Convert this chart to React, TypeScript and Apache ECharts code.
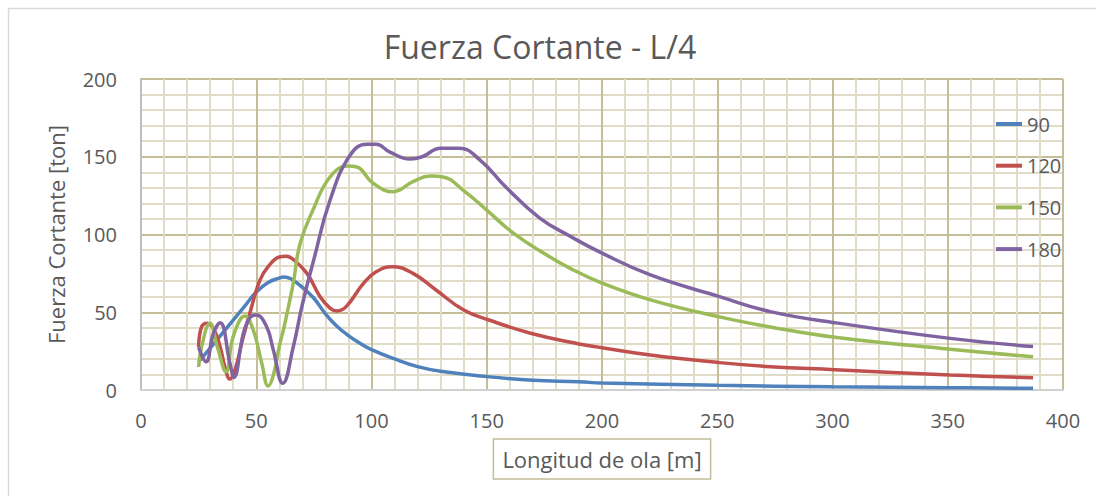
import React, { useEffect, useRef } from "react";
import * as echarts from "echarts";

const seriesNames = ["90", "120", "150", "180"];
const seriesColors = ["#4f81bd", "#c0504d", "#9bbb59", "#8064a2"];

const lengths90 = [25, 30, 35, 40, 45, 50, 55, 60, 62, 65, 70, 75, 80, 85, 90, 95, 100, 110, 120, 130, 150, 170, 190, 200, 250, 300, 350, 387];
const force90 = [18, 27, 36, 45, 54, 63, 69, 72, 72.7, 71.5, 66, 59, 49, 41, 35, 30, 26, 20, 15, 12, 8.6, 6.3, 5.3, 4.5, 3, 2.1, 1.5, 1.1];

const lengths120 = [25, 26.3, 28.7, 31.4, 34.3, 36.4, 38.6, 40.8, 44.4, 48, 51.6, 55, 60, 63, 66, 72, 77.7, 82, 85, 89, 96.5, 102, 109, 118, 128, 140, 151, 169, 190, 200, 221, 251, 273, 301, 351, 387];
const force120 = [27.6, 40.7, 43, 39.7, 28, 15, 7, 13, 34.3, 53.6, 70.7, 79, 85.5, 86, 84, 75, 60, 52.7, 50.8, 53.6, 68.6, 76, 79.3, 75, 64.3, 51.4, 45, 36.5, 29.6, 27.2, 22.5, 17.6, 15, 13.1, 9.6, 7.9];

const lengths150 = [25, 26.3, 29.9, 33.1, 36.9, 40, 45.1, 48.7, 52.4, 55.2, 57.5, 60, 62, 64.6, 66.1, 69, 74.6, 82, 89.8, 93.6, 100.7, 109.4, 118, 125.4, 131, 139.7, 150, 161.4, 176, 186, 200, 221, 251, 273, 301, 351, 387];
const force150 = [14.8, 27.9, 42.9, 27.9, 11.8, 34.3, 47.6, 38.6, 17.1, 2.6, 10, 28, 40, 58, 69, 94, 115.7, 137, 144, 143.4, 133, 127.5, 134, 137.6, 137, 128.6, 115.7, 101, 86.8, 78.4, 68.8, 58, 47, 40.5, 33.9, 26.2, 21.4];

const lengths180 = [25, 28.2, 31.4, 34.3, 38.6, 40.3, 44.4, 47.3, 49.9, 54.5, 57.4, 61.5, 66.1, 70, 75, 82, 90.7, 98, 102, 108, 116.7, 122, 130, 138, 147, 158.6, 173, 186, 200, 221, 251, 273, 301, 351, 387];
const force180 = [27.6, 18.2, 36.4, 43.3, 17.1, 8.1, 36.4, 46.7, 48.2, 40.7, 25.7, 4.3, 28, 55, 84, 122, 151, 158, 158, 153, 148.5, 150, 155.5, 155.5, 148, 130, 110.6, 99, 88, 74, 60, 50.4, 43.3, 33.2, 27.9];

const allLengths = [lengths90, lengths120, lengths150, lengths180];
const allForces = [force90, force120, force150, force180];

const FONT = "'Open Sans', sans-serif";
const TEXT = "#595959";

export default function App() {
  const ref = useRef<HTMLDivElement>(null);
  useEffect(() => {
    if (!ref.current) return;
    const chart = echarts.init(ref.current, undefined, { renderer: "svg" });
    const series = seriesNames.map((name, i) => ({
      name,
      type: "line",
      data: allLengths[i].map((x, j) => [x, allForces[i][j]]),
      smooth: 0.45,
      showSymbol: false,
      symbol: "none",
      lineStyle: { color: seriesColors[i], width: 3.5 },
      itemStyle: { color: seriesColors[i] },
      z: 3 + i,
    }));
    chart.setOption({
      animation: false,
      backgroundColor: "#ffffff",
      textStyle: { fontFamily: FONT },
      title: {
        text: "Fuerza Cortante - L/4",
        left: 535,
        top: 25,
        textAlign: "center",
        textStyle: { fontFamily: FONT, fontSize: 32, fontWeight: "normal", color: TEXT },
      },
      graphic: [
        {
          type: "rect",
          shape: { x: 8.5, y: 8.5, width: 1200, height: 600 },
          style: { fill: "none", stroke: "#d9d9d9", lineWidth: 1.5 },
          silent: true,
          z: -1,
        },
      ],
      legend: {
        orient: "vertical",
        left: 991,
        top: 109,
        itemWidth: 26,
        itemHeight: 4,
        itemGap: 21.7,
        icon: "rect",
        data: seriesNames,
        textStyle: { fontFamily: FONT, fontSize: 20, color: TEXT, lineHeight: 20 },
      },
      grid: { left: 141, right: 33, top: 79, bottom: 106, containLabel: false },
      xAxis: {
        type: "value",
        min: 0,
        max: 400,
        interval: 50,
        name: "Longitud de ola [m]",
        nameLocation: "middle",
        nameGap: 49,
        nameTextStyle: {
          fontFamily: FONT,
          fontSize: 22,
          color: TEXT,
          borderColor: "#c4bd97",
          borderWidth: 1.5,
          padding: [7, 9, 7, 9],
          lineHeight: 26,
        },
        axisLine: { show: true, lineStyle: { color: "#d0d0d0", width: 2 } },
        axisTick: { show: false },
        axisLabel: { fontFamily: FONT, fontSize: 20, color: TEXT, margin: 20 },
        splitLine: { show: true, lineStyle: { color: "#c4bd97", width: 2 } },
        minorTick: { show: false, splitNumber: 5 },
        minorSplitLine: { show: true, lineStyle: { color: "#e0dcc7", width: 2 } },
      },
      yAxis: {
        type: "value",
        min: 0,
        max: 200,
        interval: 50,
        name: "Fuerza Cortante [ton]",
        nameLocation: "middle",
        nameGap: 74,
        nameTextStyle: { fontFamily: FONT, fontSize: 22, color: TEXT },
        axisLine: { show: true, lineStyle: { color: "#bfbfbf", width: 2 } },
        axisTick: { show: false },
        axisLabel: { fontFamily: FONT, fontSize: 20, color: TEXT, margin: 24 },
        splitLine: { show: true, lineStyle: { color: "#c4bd97", width: 2 } },
        minorTick: { show: false, splitNumber: 5 },
        minorSplitLine: { show: true, lineStyle: { color: "#e0dcc7", width: 2 } },
      },
      series,
    });
    return () => chart.dispose();
  }, []);
  return (
    <div
      ref={ref}
      style={{ position: "fixed", left: 0, top: 0, width: 1096, height: 496 }}
    />
  );
}
